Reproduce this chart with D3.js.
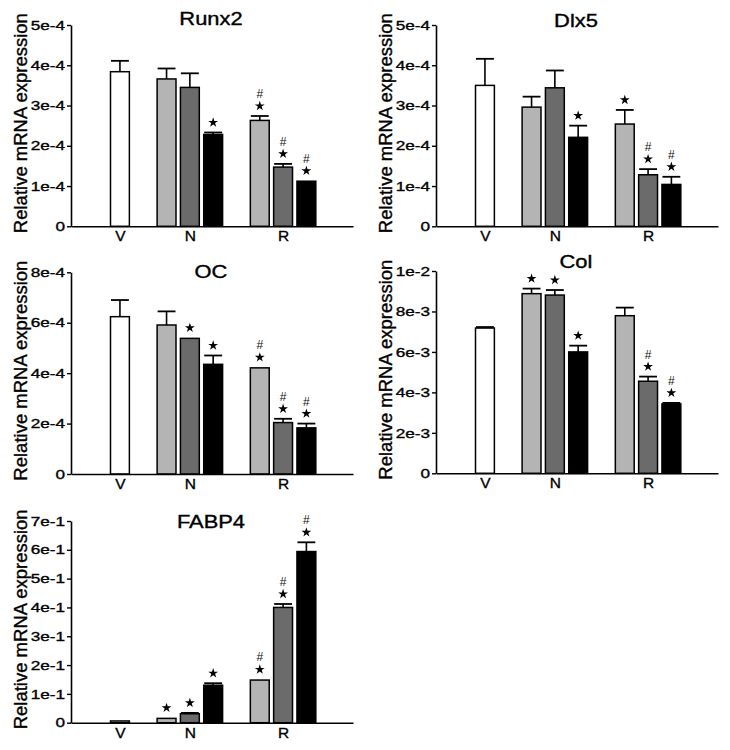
<!DOCTYPE html>
<html>
<head>
<meta charset="utf-8">
<script src="https://cdn.jsdelivr.net/npm/d3@7"></script>
<style>
  body { margin: 0; background: #fff; }
  text { font-family: "Liberation Sans", Arial, Helvetica, sans-serif; }
</style>
</head>
<body>
<svg id="chart" width="730" height="750"></svg>
<script>
// ---------------- data ----------------
const genes = ["Runx2", "Dlx5", "OC", "Col", "FABP4"];
const categories = ["V", "N", "R"];
const barGroups = ["V", "N", "N", "N", "R", "R", "R"];
const barShades = ["white", "light", "dark", "black", "light", "dark", "black"];

const runx2Mean = [3.84e-4, 3.66e-4, 3.45e-4, 2.28e-4, 2.63e-4, 1.47e-4, 1.12e-4];
const runx2Sem  = [0.27e-4, 0.26e-4, 0.35e-4, 0.05e-4, 0.11e-4, 0.08e-4, 0.01e-4];
const runx2Star = [0, 0, 0, 1, 1, 1, 1];
const runx2Hash = [0, 0, 0, 0, 1, 1, 1];

const dlx5Mean = [3.50e-4, 2.96e-4, 3.44e-4, 2.21e-4, 2.54e-4, 1.28e-4, 1.04e-4];
const dlx5Sem  = [0.66e-4, 0.26e-4, 0.43e-4, 0.29e-4, 0.35e-4, 0.14e-4, 0.19e-4];
const dlx5Star = [0, 0, 0, 1, 1, 1, 1];
const dlx5Hash = [0, 0, 0, 0, 0, 1, 1];

const ocMean = [6.24e-4, 5.91e-4, 5.38e-4, 4.35e-4, 4.21e-4, 2.04e-4, 1.83e-4];
const ocSem  = [0.66e-4, 0.54e-4, 0.02e-4, 0.35e-4, 0.02e-4, 0.15e-4, 0.17e-4];
const ocStar = [0, 0, 1, 1, 1, 1, 1];
const ocHash = [0, 0, 0, 0, 1, 1, 1];

const colMean = [7.18e-3, 8.88e-3, 8.81e-3, 6.00e-3, 7.79e-3, 4.55e-3, 3.43e-3];
const colSem  = [0.05e-3, 0.25e-3, 0.25e-3, 0.31e-3, 0.40e-3, 0.23e-3, 0.05e-3];
const colStar = [0, 1, 1, 1, 0, 1, 1];
const colHash = [0, 0, 0, 0, 0, 1, 1];

const fabp4Mean = [0.006, 0.015, 0.031, 0.130, 0.148, 0.400, 0.594];
const fabp4Sem  = [0.001, 0.002, 0.003, 0.007, 0.002, 0.012, 0.032];
const fabp4Star = [0, 1, 1, 1, 1, 1, 1];
const fabp4Hash = [0, 0, 0, 0, 1, 1, 1];

const runx2Ticks = [0, 1e-4, 2e-4, 3e-4, 4e-4, 5e-4];
const runx2TickLabels = ["0", "1e-4", "2e-4", "3e-4", "4e-4", "5e-4"];
const dlx5Ticks = [0, 1e-4, 2e-4, 3e-4, 4e-4, 5e-4];
const dlx5TickLabels = ["0", "1e-4", "2e-4", "3e-4", "4e-4", "5e-4"];
const ocTicks = [0, 2e-4, 4e-4, 6e-4, 8e-4];
const ocTickLabels = ["0", "2e-4", "4e-4", "6e-4", "8e-4"];
const colTicks = [0, 2e-3, 4e-3, 6e-3, 8e-3, 1e-2];
const colTickLabels = ["0", "2e-3", "4e-3", "6e-3", "8e-3", "1e-2"];
const fabp4Ticks = [0, 1e-1, 2e-1, 3e-1, 4e-1, 5e-1, 6e-1, 7e-1];
const fabp4TickLabels = ["0", "1e-1", "2e-1", "3e-1", "4e-1", "5e-1", "6e-1", "7e-1"];

const yLabel = "Relative mRNA expression";

// ---------------- layout / style ----------------
const shadeColor = { white: "#ffffff", light: "#b4b4b4", dark: "#6b6b6b", black: "#000000" };
const slots = [0, 2, 3, 4, 6, 7, 8];       // bar positions along the category axis
const catSlots = [0, 3, 7];

const panels = [
  { mean: runx2Mean, sem: runx2Sem, star: runx2Star, hash: runx2Hash, ticks: runx2Ticks, tickLabels: runx2TickLabels,
    x0: 71, yTop: 25, yBottom: 226.3, titleDy: 0 },
  { mean: dlx5Mean, sem: dlx5Sem, star: dlx5Star, hash: dlx5Hash, ticks: dlx5Ticks, tickLabels: dlx5TickLabels,
    x0: 436, yTop: 25, yBottom: 226.3, titleDy: 1.5 },
  { mean: ocMean, sem: ocSem, star: ocStar, hash: ocHash, ticks: ocTicks, tickLabels: ocTickLabels,
    x0: 71, yTop: 272.3, yBottom: 474, titleDy: 6 },
  { mean: colMean, sem: colSem, star: colStar, hash: colHash, ticks: colTicks, tickLabels: colTickLabels,
    x0: 436, yTop: 271, yBottom: 473.3, titleDy: -3 },
  { mean: fabp4Mean, sem: fabp4Sem, star: fabp4Star, hash: fabp4Hash, ticks: fabp4Ticks, tickLabels: fabp4TickLabels,
    x0: 71, yTop: 521, yBottom: 722.7, titleDy: 7 }
];

const plotW = 282;
const svg = d3.select("#chart");

function stretch(sel, factor) {
  sel.each(function () {
    const w = this.getComputedTextLength();
    d3.select(this).attr("textLength", w * factor).attr("lengthAdjust", "spacingAndGlyphs");
  });
}

panels.forEach((p, gi) => {
  const g = svg.append("g");
  const x = d3.scaleLinear().domain([-2.1, 10]).range([p.x0, p.x0 + plotW]);
  const y = d3.scaleLinear().domain([0, p.ticks[p.ticks.length - 1]]).range([p.yBottom, p.yTop]);
  const bw = x(0.81) - x(0);

  // y axis
  const yAxis = g.append("g")
    .attr("transform", `translate(${p.x0},0)`)
    .call(d3.axisLeft(y).tickValues(p.ticks).tickFormat((d, i) => p.tickLabels[i])
      .tickSize(4).tickSizeOuter(0).tickPadding(2));
  yAxis.select(".domain").attr("stroke", "#000").attr("stroke-width", 1.6);
  yAxis.selectAll(".tick line").attr("stroke", "#000").attr("stroke-width", 1.4);
  yAxis.selectAll(".tick text").attr("font-size", 13).attr("fill", "#000")
    .attr("stroke", "#000").attr("stroke-width", 0.35)
    .attr("font-family", "'Liberation Sans', Arial, sans-serif");
  stretch(yAxis.selectAll(".tick text"), 1.32);

  // bars
  const data = p.mean.map((m, i) => ({ m, s: p.sem[i], st: p.star[i], h: p.hash[i], slot: slots[i], shade: barShades[i] }));
  g.selectAll("rect.bar").data(data).enter().append("rect")
    .attr("class", "bar")
    .attr("x", d => x(d.slot) - bw / 2)
    .attr("width", bw)
    .attr("y", d => y(d.m))
    .attr("height", d => y(0) - y(d.m))
    .attr("fill", d => shadeColor[d.shade])
    .attr("stroke", "#000")
    .attr("stroke-width", 1.5);

  // error bars (upper only)
  const eb = g.selectAll("g.err").data(data.filter(d => y(d.m) - y(d.m + d.s) > 0.8)).enter().append("g");
  eb.append("line")
    .attr("x1", d => x(d.slot)).attr("x2", d => x(d.slot))
    .attr("y1", d => y(d.m)).attr("y2", d => y(d.m + d.s))
    .attr("stroke", "#000").attr("stroke-width", 1.6);
  eb.append("line")
    .attr("x1", d => x(d.slot) - bw / 2 + 0.5).attr("x2", d => x(d.slot) + bw / 2 - 0.5)
    .attr("y1", d => y(d.m + d.s)).attr("y2", d => y(d.m + d.s))
    .attr("stroke", "#000").attr("stroke-width", 1.8);

  // significance marks
  const starSym = d3.symbol().type(d3.symbolStar).size(30);
  g.selectAll("path.star").data(data.filter(d => d.st)).enter().append("path")
    .attr("class", "star")
    .attr("d", starSym)
    .attr("fill", "#000")
    .attr("transform", d => `translate(${x(d.slot)},${y(d.m + d.s) - 10})`);
  g.selectAll("text.hash").data(data.filter(d => d.h)).enter().append("text")
    .attr("class", "hash")
    .attr("x", d => x(d.slot))
    .attr("y", d => y(d.m + d.s) - 18)
    .attr("text-anchor", "middle")
    .attr("font-size", 12)
    .attr("fill", "#111")
    .text("#");

  // x axis
  const xAxis = g.append("g")
    .attr("transform", `translate(0,${p.yBottom})`)
    .call(d3.axisBottom(x).tickValues(catSlots).tickFormat((d, i) => categories[i])
      .tickSize(0).tickSizeOuter(0).tickPadding(4));
  xAxis.select(".domain").attr("stroke", "#000").attr("stroke-width", 1.6);
  xAxis.selectAll(".tick text").attr("font-size", 15.5).attr("fill", "#000")
    .attr("stroke", "#000").attr("stroke-width", 0.35)
    .attr("font-family", "'Liberation Sans', Arial, sans-serif");

  // title
  const t = g.append("text")
    .attr("x", p.x0 + 140)
    .attr("y", p.yTop + p.titleDy)
    .attr("text-anchor", "middle")
    .attr("font-size", 17.5)
    .attr("fill", "#000")
    .attr("stroke", "#000").attr("stroke-width", 0.35)
    .text(genes[gi]);
  stretch(t, 1.25);

  // y label
  const cy = (p.yTop + p.yBottom) / 2 - 2.5;
  g.append("text")
    .attr("transform", `translate(${p.x0 - 44},${cy}) rotate(-90)`)
    .attr("text-anchor", "middle")
    .attr("font-size", 17.5)
    .attr("fill", "#000")
    .attr("stroke", "#000").attr("stroke-width", 0.35)
    .attr("textLength", 220)
    .attr("lengthAdjust", "spacingAndGlyphs")
    .text(yLabel);
});
</script>
</body>
</html>
